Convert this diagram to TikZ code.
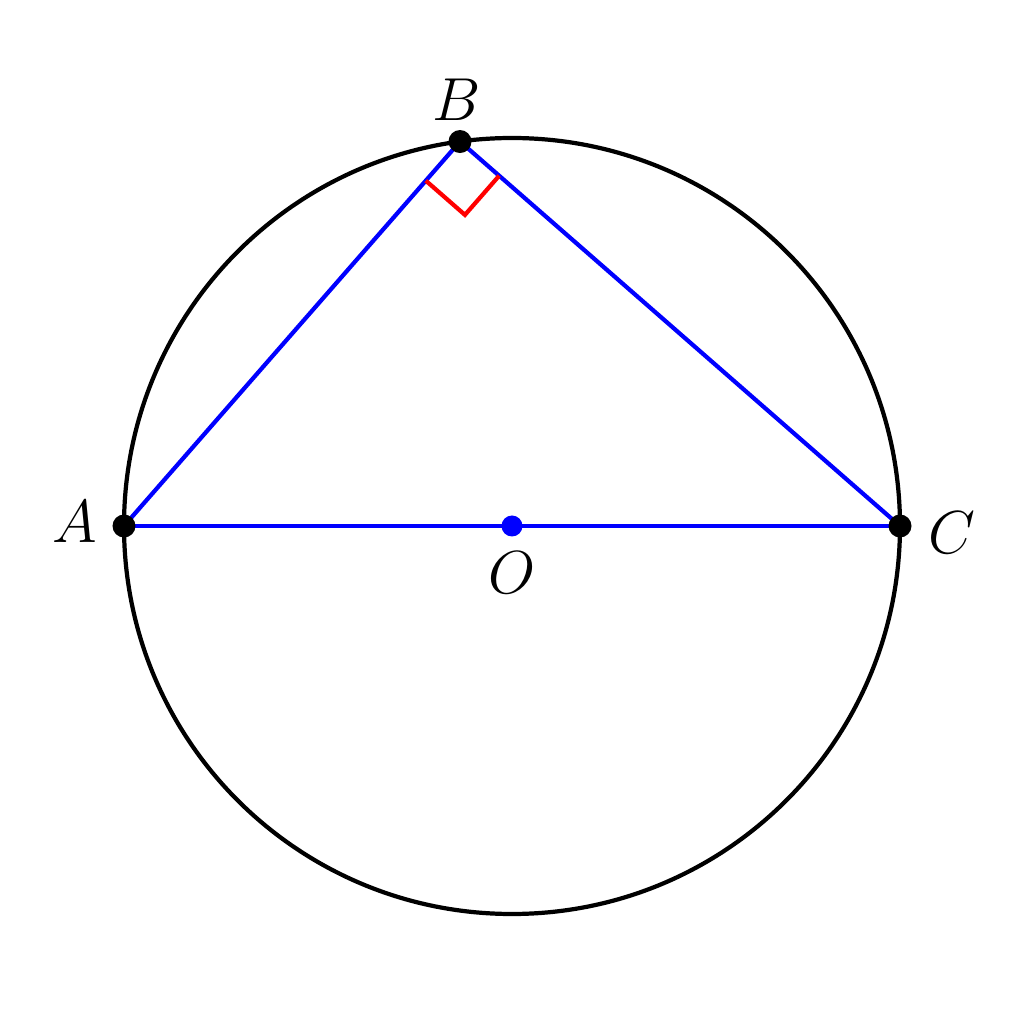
\documentclass[tikz,border=0pt]{standalone}
\usepackage{amsmath}
\usepackage{tikz}
\usetikzlibrary{calc}

\begin{document}
\begin{tikzpicture}[
    dot/.style={circle, fill=black, inner sep=0pt, minimum size=0.23cm},
    lbl/.style={font=\fontsize{17}{20}\selectfont},
    side/.style={blue, line width=1.2pt}
]

% Frame of the picture
\useasboundingbox (0,0) rectangle (10.24,10.24);

% Circle with centre O
\coordinate (O) at (5.12,4.98);
\draw[line width=1.2pt] (O) circle (3.88);

% Points on the circle
\coordinate (A) at ($(O)+(180:3.88)$);
\coordinate (C) at ($(O)+(0:3.88)$);
\coordinate (B) at ($(O)+(97.7:3.88)$);

% Triangle and diameter
\draw[side] (A) -- (B) -- (C);
\draw[side] (A) -- (C);

% Right angle at B
\coordinate (P) at ($(B)!0.52cm!(A)$);
\coordinate (Q) at ($(B)!0.52cm!(C)$);
\draw[red, line width=1.2pt] (P) -- ($(P)+(Q)-(B)$) -- (Q);

% Bullets
\node[dot] (a) at (A) {};
\node[dot] (b) at (B) {};
\node[dot] (c) at (C) {};
\node[dot, fill=blue, minimum size=0.21cm] (o) at (O) {};

% Labels
\node[lbl] at (0.75,5.02) {$A$};
\node[lbl] at (4.57,9.24) {$B$};
\node[lbl] at (9.52,4.91) {$C$};
\node[lbl] at (5.12,4.51) {$O$};

\end{tikzpicture}
\end{document}
